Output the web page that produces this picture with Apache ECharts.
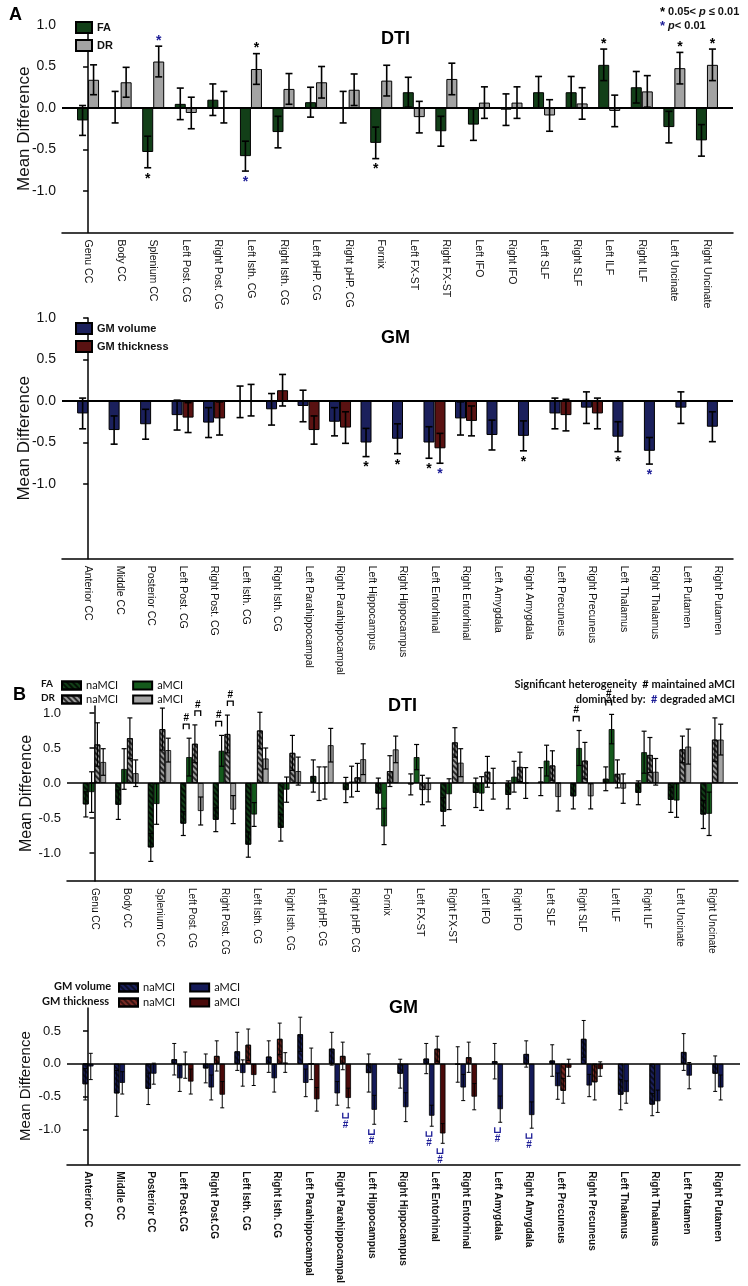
<!DOCTYPE html>
<html><head><meta charset="utf-8">
<script src="https://cdn.jsdelivr.net/npm/echarts@6/dist/echarts.min.js"></script>
<style>html,body{margin:0;padding:0;background:#fff}#c{width:748px;height:1286px}</style>
</head><body><div id="c"></div>
<script>
// ---------------- DATA ----------------
// Panel A – DTI
const dtiCatsA = ['Genu CC','Body CC','Splenium CC','Left Post. CG','Right Post. CG','Left Isth. CG','Right Isth. CG','Left pHP. CG','Right pHP. CG','Fornix','Left FX-ST','Right FX-ST','Left IFO','Right IFO','Left SLF','Right SLF','Left ILF','Right ILF','Left Uncinate','Right Uncinate'];
const aFA    = [-0.15,0.01,-0.53,0.05,0.10,-0.58,-0.29,0.07,0.01,-0.42,0.19,-0.28,-0.20,-0.02,0.19,0.19,0.52,0.25,-0.23,-0.39];
const aFAerr = [0.18,0.19,0.19,0.19,0.19,0.18,0.19,0.18,0.19,0.19,0.18,0.18,0.19,0.19,0.19,0.19,0.19,0.19,0.19,0.19];
const aDR    = [0.34,0.31,0.56,-0.06,0.01,0.47,0.23,0.31,0.22,0.33,-0.11,0.35,0.065,0.065,-0.09,0.055,-0.035,0.20,0.48,0.52];
const aDRerr = [0.18,0.18,0.185,0.19,0.19,0.185,0.185,0.19,0.19,0.185,0.19,0.19,0.19,0.19,0.19,0.19,0.19,0.19,0.19,0.19];
const aFAsig = ['','','k','','','b','','','','k','','','','','','','k','','',''];
const aDRsig = ['','','b','','','k','','','','','','','','','','','','','k','k'];

// Panel A – GM
const gmCatsA = ['Anterior CC','Middle CC','Posterior CC','Left Post. CG','Right Post. CG','Left Isth. CG','Right Isth. CG','Left Parahippocampal','Right Parahippocampal','Left Hippocampus','Right Hippocampus','Left Entorhinal','Right Entorhinal','Left Amygdala','Right Amygdala','Left Precuneus','Right Precuneus','Left Thalamus','Right Thalamus','Left Putamen','Right Putamen'];
const aVol    = [-0.15,-0.35,-0.28,-0.17,-0.26,-0.01,-0.10,-0.06,-0.25,-0.50,-0.455,-0.50,-0.21,-0.41,-0.42,-0.15,-0.08,-0.43,-0.60,-0.08,-0.31];
const aVolErr = [0.185,0.17,0.18,0.18,0.18,0.19,0.19,0.19,0.17,0.17,0.18,0.19,0.2,0.18,0.18,0.185,0.19,0.18,0.16,0.19,0.18];
const aThk    = [null,null,null,-0.20,-0.21,0.01,0.13,-0.35,-0.32,null,null,-0.57,-0.24,null,null,-0.17,-0.15,null,null,null,null];
const aThkErr = [null,null,null,0.18,0.2,0.19,0.19,0.17,0.19,null,null,0.18,0.18,null,null,0.19,0.185,null,null,null,null];
const aVolSig = ['','','','','','','','','','k','k','k','','','k','','','k','b','',''];
const aThkSig = ['','','','','','','','','','','','b','','','','','','','','',''];

// Panel B – DTI
const dtiCatsB = dtiCatsA;
const bFAna    = [-0.305,-0.31,-0.92,-0.58,-0.525,-0.88,-0.64,0.10,-0.10,-0.15,-0.02,-0.41,-0.14,-0.17,0.02,-0.19,0.06,-0.14,-0.24,-0.45];
const bFAnaErr = [0.18,0.21,0.2,0.17,0.17,0.18,0.19,0.23,0.18,0.22,0.15,0.2,0.21,0.2,0.2,0.18,0.17,0.17,0.18,0.2];
const bFAa     = [-0.13,0.20,-0.30,0.37,0.46,-0.45,-0.095,-0.01,0.02,-0.62,0.37,-0.16,-0.15,0.09,0.32,0.50,0.77,0.44,-0.25,-0.44];
const bFAaErr  = [0.29,0.29,0.29,0.27,0.22,0.17,0.18,0.24,0.22,0.26,0.18,0.22,0.24,0.22,0.22,0.25,0.21,0.3,0.24,0.31];
const bDRna    = [0.55,0.64,0.77,0.56,0.70,0.75,0.43,0.0,0.08,0.17,-0.10,0.58,0.16,0.23,0.25,0.32,0.13,0.40,0.48,0.62];
const bDRnaErr = [0.31,0.29,0.3,0.27,0.27,0.26,0.25,0.23,0.2,0.22,0.21,0.21,0.22,0.21,0.21,0.26,0.2,0.25,0.19,0.31];
const bDRa     = [0.30,0.14,0.47,-0.40,-0.38,0.35,0.17,0.54,0.34,0.48,-0.10,0.29,-0.01,0.0,-0.20,-0.19,-0.08,0.16,0.52,0.62];
const bDRaErr  = [0.19,0.19,0.17,0.2,0.2,0.15,0.2,0.24,0.22,0.19,0.17,0.2,0.22,0.22,0.2,0.18,0.21,0.19,0.25,0.22];
// heterogeneity brackets: [category, slotA, slotB] (black # = maintained aMCI)
const bDtiBrackets = [[3,0,1],[3,2,3],[4,0,1],[4,2,3],[15,0,1],[16,0,1]];

// Panel B – GM
const gmCatsB = ['Anterior CC','Middle CC','Posterior CC','Left Post.CG','Right Post.CG','Left Isth. CG','Right Isth. CG','Left Parahippocampal','Right Parahippocampal','Left Hippocampus','Right Hippocampus','Left Entorhinal','Right Entorhinal','Left Amygdala','Right Amygdala','Left Precuneus','Right Precuneus','Left Thalamus','Right Thalamus','Left Putamen','Right Putamen'];
const bVolNa    = [-0.31,-0.45,-0.38,0.07,-0.07,0.19,0.11,0.45,0.23,-0.14,-0.15,0.08,-0.01,0.04,0.15,0.05,0.38,-0.47,-0.62,0.18,-0.15];
const bVolNaErr = [0.24,0.35,0.24,0.24,0.22,0.29,0.24,0.26,0.25,0.29,0.22,0.23,0.27,0.27,0.2,0.24,0.28,0.23,0.17,0.28,0.27];
const bVolA     = [-0.04,-0.29,-0.15,-0.22,-0.36,-0.14,-0.22,-0.29,-0.45,-0.70,-0.66,-0.79,-0.36,-0.69,-0.78,-0.34,-0.33,-0.43,-0.57,-0.18,-0.36];
const bVolAErr  = [0.2,0.17,0.16,0.2,0.19,0.2,0.21,0.21,0.18,0.22,0.22,0.16,0.2,0.2,0.2,0.2,0.17,0.17,0.17,0.2,0.19];
const bThkNa    = [null,null,null,-0.02,0.12,0.29,0.38,0.0,0.12,null,null,0.23,0.10,null,null,-0.41,-0.28,null,null,null,null];
const bThkNaErr = [null,null,null,0.2,0.23,0.24,0.24,0.24,0.21,null,null,0.19,0.23,null,null,0.19,0.27,null,null,null,null];
const bThkA     = [null,null,null,-0.27,-0.47,-0.17,0.02,-0.54,-0.52,null,null,-1.06,-0.50,null,null,-0.06,-0.08,null,null,null,null];
const bThkAErr  = [null,null,null,0.19,0.2,0.16,0.15,0.18,0.15,null,null,0.15,0.2,null,null,0.13,0.11,null,null,null,null];
// heterogeneity brackets: [category, slotA, slotB] (blue # = degraded aMCI)
const bGmBrackets = [[8,2,3],[9,0,1],[11,0,1],[11,2,3],[13,0,1],[14,0,1]];

// tick labels
const yTicksA = [-1,-0.5,0,0.5,1];
const yTicksBdti = [-1,-0.5,0,0.5,1];
const yTicksBgm = [-1,-0.5,0,0.5];

// ---------------- STYLE ----------------
const F = 'Liberation Sans, Arial, sans-serif';
const FN = 'Lato, Liberation Sans, sans-serif';
const BLUE = '#1c1c96';
const cFA = '#123f18', cDR = '#a3a3a3', cVol = '#1b205c', cThk = '#5a1212';
const cFAa = '#145a1c', cVolA = '#141a58', cThkA = '#4a0a0a';
const hatch = (c) => ({symbol:'rect', symbolSize:1, dashArrayX:[1,0], dashArrayY:[2,2], rotation:Math.PI/4, color:c});

const chart = echarts.init(document.getElementById('c'), null, {renderer:'canvas'});

function off(k, n, bw){ return (k - (n-1)/2) * bw; }

function yAxisDef(grid, min, max, ticks, fs, nameGap, nameFs){
  return {type:'value', gridIndex:grid, min, max,
    name:'Mean Difference', nameLocation:'middle', nameGap, nameMoveOverlap:false,
    nameTextStyle:{fontFamily:F, fontSize:nameFs, color:'#111'},
    axisLine:{show:true, lineStyle:{color:'#000', width:1.5}},
    axisTick:{show:true, inside:false, length:5, customValues:ticks, lineStyle:{color:'#000', width:1.5}},
    axisLabel:{customValues:ticks, formatter:v=>Number(v).toFixed(1), fontFamily:F, fontSize:fs, color:'#111', margin:6},
    splitLine:{show:false}};
}
function xAxisDef(grid, min, max, cats, fs, bold, show){
  const vals = cats.map((_,i)=>i);
  return {type:'value', gridIndex:grid, min, max, position:'bottom', show:show,
    axisLine:{show:true, onZero:false, lineStyle:{color:'#000', width:1.5}},
    axisTick:{show:false},
    axisLabel:{show:true, customValues:vals, formatter:v=>cats[Math.round(v)]||'', rotate:-90, fontFamily:F, fontSize:fs, fontWeight:bold?'bold':'normal', color:'#111', margin:7},
    splitLine:{show:false}};
}
function zeroLine(w){
  return {silent:true, symbol:'none', animation:false, label:{show:false}, lineStyle:{color:'#000', width:w, type:'solid'}, data:[{yAxis:0}]};
}
function bar(name, xi, yi, vals, color, bw, decal, bwid, keep){
  return {type:'bar', name, xAxisIndex:xi, yAxisIndex:yi, barWidth:bw, barGap:'0%',
    data: vals.map((v,i)=>[i, (v==null || (keep && !keep(i))) ? '-' : v]),
    itemStyle:{color, borderColor:'#000', borderWidth:bwid, decal: decal||null}, z:2};
}
function errSeries(xi, yi, pts, capHalf, lw){
  return {type:'custom', xAxisIndex:xi, yAxisIndex:yi, z:5, silent:true, clip:false,
    data: pts, encode:{x:0, y:1},
    renderItem:(p, api)=>{
      const x=api.value(0), v=api.value(1), e=api.value(2), o=api.value(3);
      const p1=api.coord([x, v+e]), p2=api.coord([x, v-e]);
      const cx=p1[0]+o;
      const st={stroke:'#000', lineWidth:lw};
      return {type:'group', children:[
        {type:'line', shape:{x1:cx,y1:p1[1],x2:cx,y2:p2[1]}, style:st},
        {type:'line', shape:{x1:cx-capHalf,y1:p1[1],x2:cx+capHalf,y2:p1[1]}, style:st},
        {type:'line', shape:{x1:cx-capHalf,y1:p2[1],x2:cx+capHalf,y2:p2[1]}, style:st}
      ]};
    }};
}
function txt(x, y, t, color, size){
  return {type:'text', x, y, style:{text:t, fill:color, fontSize:size, fontWeight:'bold', fontFamily:F,
    align:'center', textAlign:'center', verticalAlign:'middle', textVerticalAlign:'middle'}};
}
function starSeries(xi, yi, pts){
  return {type:'custom', xAxisIndex:xi, yAxisIndex:yi, z:6, silent:true, clip:false,
    data: pts, encode:{x:0, y:1},
    renderItem:(p, api)=>{
      const i=api.value(0), v=api.value(1), e=api.value(2), o=api.value(3), c=api.value(4);
      const up = v >= 0;
      const pt = api.coord([i, up ? v+e : v-e]);
      return txt(pt[0]+o, up ? pt[1]-5 : pt[1]+11, '*', c ? BLUE : '#000', 14);
    }};
}
function bracketSeries(xi, yi, pts, up, color){
  return {type:'custom', xAxisIndex:xi, yAxisIndex:yi, z:6, silent:true, clip:false,
    data: pts, encode:{x:0, y:1},
    renderItem:(p, api)=>{
      const i=api.value(0), ref=api.value(1), o1=api.value(2), o2=api.value(3);
      const pt = api.coord([i, ref]);
      const x1 = pt[0]+o1, x2 = pt[0]+o2;
      const st = {stroke:color, lineWidth:1.3, fill:null};
      if (up){
        const yb = pt[1]-14;
        return {type:'group', children:[
          {type:'polyline', shape:{points:[[x1,yb+5],[x1,yb],[x2,yb],[x2,yb+5]]}, style:st},
          txt((x1+x2)/2, yb-6, '#', color, 10)]};
      } else {
        const yb = pt[1]+5;
        return {type:'group', children:[
          {type:'polyline', shape:{points:[[x1,yb],[x1,yb+5],[x2,yb+5],[x2,yb]]}, style:st},
          txt((x1+x2)/2, yb+12, '#', color, 10)]};
      }
    }};
}
function pts(vals, errs, offFn){
  const r=[]; vals.forEach((v,i)=>{ if(v!=null && errs[i]!=null) r.push([i, v, errs[i], offFn(i)]); }); return r;
}
function sigPts(vals, errs, sig, offFn){
  const r=[]; sig.forEach((s,i)=>{ if(s) r.push([i, vals[i], errs[i], offFn(i), s==='b'?1:0]); }); return r;
}

// ---------------- BUILD ----------------
const series = [];
// A DTI (grid 0)
const bwA = 11;
const sFA = bar('FA', 0, 0, aFA, cFA, bwA, null, 1); sFA.markLine = zeroLine(1.8);
series.push(sFA, bar('DR', 0, 0, aDR, cDR, bwA, null, 1));
series.push(errSeries(0,0, pts(aFA,aFAerr,()=>off(0,2,bwA)), 3.5, 1.6));
series.push(errSeries(0,0, pts(aDR,aDRerr,()=>off(1,2,bwA)), 3.5, 1.6));
series.push(starSeries(0,0, sigPts(aFA,aFAerr,aFAsig,()=>off(0,2,bwA))));
series.push(starSeries(0,0, sigPts(aDR,aDRerr,aDRsig,()=>off(1,2,bwA))));
// A GM (grid 1)
const sVol = bar('GM volume', 1, 1, aVol, cVol, bwA, null, 1); sVol.markLine = zeroLine(1.8);
series.push(sVol, bar('GM thickness', 1, 1, aThk, cThk, bwA, null, 1));
series.push(errSeries(1,1, pts(aVol,aVolErr,()=>off(0,2,bwA)), 3.5, 1.6));
series.push(errSeries(1,1, pts(aThk,aThkErr,()=>off(1,2,bwA)), 3.5, 1.6));
series.push(starSeries(1,1, sigPts(aVol,aVolErr,aVolSig,()=>off(0,2,bwA))));
series.push(starSeries(1,1, sigPts(aThk,aThkErr,aThkSig,()=>off(1,2,bwA))));
// B DTI (grid 2)
const bwB = 5.8;
const bVals = [bFAna,bFAa,bDRna,bDRa], bErrs=[bFAnaErr,bFAaErr,bDRnaErr,bDRaErr];
const s0 = bar('FA naMCI', 2, 2, bFAna, cFA, bwB, hatch('rgba(0,0,0,0.75)'), 0.8); s0.markLine = zeroLine(1.6);
series.push(s0,
  bar('FA aMCI', 2, 2, bFAa, cFAa, bwB, null, 0.8),
  bar('DR naMCI', 2, 2, bDRna, '#9a9a9a', bwB, hatch('rgba(20,20,20,0.85)'), 0.8),
  bar('DR aMCI', 2, 2, bDRa, cDR, bwB, null, 0.8));
for (let k=0;k<4;k++) series.push(errSeries(2,2, pts(bVals[k],bErrs[k],()=>off(k,4,bwB)), 2.5, 1.2));
series.push(bracketSeries(2,2, bDtiBrackets.map(([c,a,b])=>[c,
  Math.max(bVals[a][c]+bErrs[a][c], bVals[b][c]+bErrs[b][c]), off(a,4,bwB), off(b,4,bwB)]), true, '#000'));
// B GM (grid 3; xAxis 3 for four-bar groups, xAxis 4 for volume-only groups)
const bwG = 5.5;
const has4 = i => bThkA[i] != null;
const gVals = [bVolNa,bVolA,bThkNa,bThkA], gErrs=[bVolNaErr,bVolAErr,bThkNaErr,bThkAErr];
const gOff = (k,i) => has4(i) ? off(k,4,bwG) : off(k,2,bwG);
const g0 = bar('GM volume naMCI', 3, 3, bVolNa, cVol, bwG, hatch('rgba(0,0,0,0.6)'), 0.8, has4); g0.markLine = zeroLine(1.6);
series.push(g0,
  bar('GM volume aMCI', 3, 3, bVolA, cVolA, bwG, null, 0.8, has4),
  bar('GM thickness naMCI', 3, 3, bThkNa, '#7a2a24', bwG, hatch('rgba(0,0,0,0.55)'), 0.8, has4),
  bar('GM thickness aMCI', 3, 3, bThkA, cThkA, bwG, null, 0.8, has4),
  bar('GM volume naMCI', 4, 3, bVolNa, cVol, bwG, hatch('rgba(0,0,0,0.6)'), 0.8, i=>!has4(i)),
  bar('GM volume aMCI', 4, 3, bVolA, cVolA, bwG, null, 0.8, i=>!has4(i)));
for (let k=0;k<4;k++) series.push(errSeries(3,3, pts(gVals[k],gErrs[k],i=>gOff(k,i)), 2, 1));
series.push(bracketSeries(3,3, bGmBrackets.map(([c,a,b])=>[c,
  Math.min(gVals[a][c]-gErrs[a][c], gVals[b][c]-gErrs[b][c]), gOff(a,c), gOff(b,c)]), false, BLUE));

const legendBase = {icon:'rect', itemWidth:16, itemHeight:11, selectedMode:false,
  textStyle:{fontFamily:F, fontSize:11, fontWeight:'bold', color:'#111'}};
const legendB = {icon:'rect', itemWidth:19, itemHeight:8, itemGap:14, selectedMode:false, orient:'horizontal',
  formatter:n=>n.split(' ').pop(), textStyle:{fontFamily:FN, fontSize:11, color:'#111'}};

const option = {
  animation:false,
  backgroundColor:'#fff',
  title:[
    {text:'A', left:4, top:1, textStyle:{fontFamily:F, fontSize:18, fontWeight:'bold', color:'#000'}},
    {text:'DTI', left:376, top:25, textStyle:{fontFamily:F, fontSize:18, fontWeight:'bold', color:'#000'}},
    {text:'{k|*} 0.05< {i|p} \u2264 0.01\n{b|*} {i|p}< 0.01', left:655, top:0,
      textStyle:{fontFamily:F, fontSize:11, fontWeight:'bold', color:'#111', lineHeight:14,
        rich:{k:{color:'#000',fontSize:13,fontWeight:'bold'}, b:{color:BLUE,fontSize:13,fontWeight:'bold'}, i:{fontStyle:'italic',fontWeight:'bold',fontSize:11}}}},
    {text:'GM', left:376, top:324, textStyle:{fontFamily:F, fontSize:18, fontWeight:'bold', color:'#000'}},
    {text:'B', left:8, top:681, textStyle:{fontFamily:F, fontSize:18, fontWeight:'bold', color:'#000'}},
    {text:'FA', left:36, top:674, textStyle:{fontFamily:FN, fontSize:10, color:'#111'}},
    {text:'DR', left:36, top:688, textStyle:{fontFamily:FN, fontSize:10, color:'#111'}},
    {text:'Significant heterogeneity  {k|#} maintained aMCI', right:8, top:674,
      textStyle:{fontFamily:FN, fontSize:11, color:'#111', rich:{k:{color:'#000',fontSize:11,fontWeight:'bold'}}}},
    {text:'dominated by:  {b|#} degraded aMCI', right:8, top:689,
      textStyle:{fontFamily:FN, fontSize:11, color:'#111', rich:{b:{color:BLUE,fontSize:11,fontWeight:'bold'}}}},
    {text:'DTI', left:383, top:692, textStyle:{fontFamily:F, fontSize:18, fontWeight:'bold', color:'#000'}},
    {text:'GM volume', left:49, top:976, textStyle:{fontFamily:FN, fontSize:11, color:'#111'}},
    {text:'GM thickness', left:37, top:991, textStyle:{fontFamily:FN, fontSize:11, color:'#111'}},
    {text:'GM', left:384, top:994, textStyle:{fontFamily:F, fontSize:18, fontWeight:'bold', color:'#000'}}
  ],
  legend:[
    Object.assign({}, legendBase, {data:['FA','DR'], orient:'vertical', left:70, top:16, itemGap:5}),
    Object.assign({}, legendBase, {data:['GM volume','GM thickness'], orient:'vertical', left:70, top:317, itemGap:5}),
    Object.assign({}, legendB, {data:['FA naMCI','FA aMCI'], left:56, top:675}),
    Object.assign({}, legendB, {data:['DR naMCI','DR aMCI'], left:56, top:689}),
    Object.assign({}, legendB, {data:['GM volume naMCI','GM volume aMCI'], left:113, top:977}),
    Object.assign({}, legendB, {data:['GM thickness naMCI','GM thickness aMCI'], left:113, top:992})
  ],
  grid:[
    {left:62, right:15, top:25, height:207.5},
    {left:62, right:15, top:318, height:240.7},
    {left:67, right:10, top:706, height:175},
    {left:67, right:8, top:1008, height:166.6}
  ],
  xAxis:[
    xAxisDef(0, -0.8, 19.8, dtiCatsA, 10.5, false, true),
    xAxisDef(1, -0.83, 20.48, gmCatsA, 10.5, false, true),
    xAxisDef(2, -0.846, 19.8, dtiCatsB, 10, false, true),
    xAxisDef(3, -0.667, 20.7, gmCatsB, 10, true, true),
    xAxisDef(3, -0.667, 20.7, gmCatsB, 10, true, false)
  ],
  yAxis:[
    yAxisDef(0, -1.5, 1.0, yTicksA, 14, 29, 17),
    yAxisDef(1, -1.9, 1.0, yTicksA, 14, 29, 17),
    yAxisDef(2, -1.4, 1.1, yTicksBdti, 13, 32, 16),
    yAxisDef(3, -1.53, 0.85, yTicksBgm, 13, 34, 15)
  ],
  series
};
chart.setOption(option);
</script>
</body></html>
